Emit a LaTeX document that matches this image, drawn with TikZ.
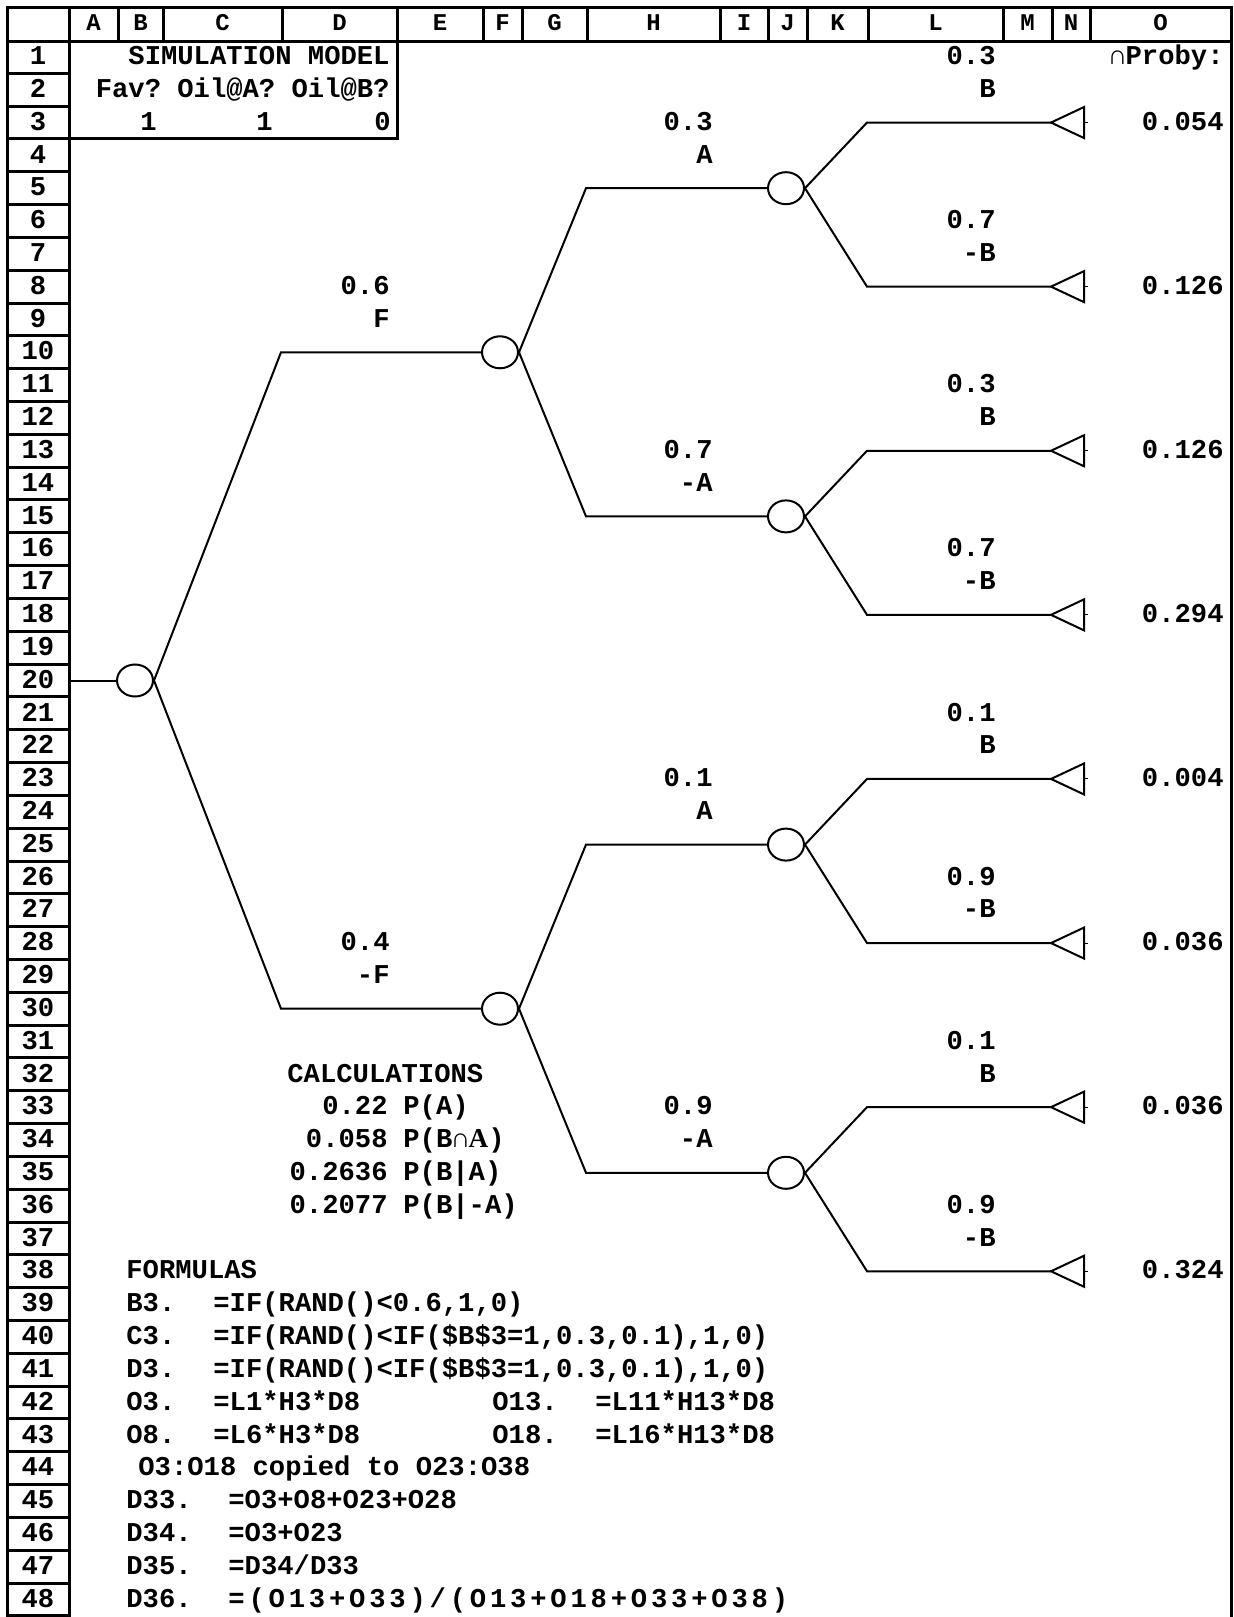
\documentclass[tikz,border=0pt]{standalone}
\usepackage{fontspec}
\setmonofont{Liberation Mono}
\newfontfamily\serifA{Liberation Serif}
\newfontfamily\widemono[LetterSpace=14]{Liberation Mono}
\usetikzlibrary{positioning,shapes.geometric}

\tikzset{
  grid/.style={line width=1.5pt},
  branch/.style={line width=1pt},
  chance/.style={draw,ellipse,line width=1pt,minimum width=18pt,minimum height=16pt,inner sep=0pt},
  txt/.style={font=\ttfamily\bfseries\fontsize{13.6}{16}\selectfont,inner sep=0pt},
  hdr/.style={font=\ttfamily\bfseries\fontsize{12}{14}\selectfont,inner sep=0pt,anchor=base},
  rt/.style={txt,anchor=base east},
  lt/.style={txt,anchor=base west}
}

\begin{document}
\begin{tikzpicture}[x=0.5pt,y=-0.5pt,
  declare function={ry(\n)=40.5+(\n-0.5)*32.82; by(\n)=ry(\n)+7.7;}]
\useasboundingbox (0,0) rectangle (1233,1617);
% sheet frame
\draw[grid] (7,7) rectangle (1231,41);
\draw[grid] (7,41) -- (7,1617) (69,41) -- (69,1617) (1231,41) -- (1231,1617);
\foreach \x in {69,118,163,282,397,483,522,587,720,768,807,868,1003,1052,1090}
  \draw[grid] (\x,7) -- (\x,41);
\foreach \n in {1,...,48}
  \draw[grid] (7,{40.5+\n*32.82}) -- (69,{40.5+\n*32.82});
\foreach \c/\x in {A/93.5,B/140.5,C/222.5,D/339.5,E/440,F/502.5,G/554.5,H/653.5,
  I/744,J/787.5,K/837.5,L/935.5,M/1027.5,N/1071,O/1160.5}
  \node[hdr] (h\c) at (\x,30.5) {\c};
\foreach \n in {1,...,48}
  \node[txt,anchor=base] (r\n) at (38,{by(\n)}) {\n};

% model box
\draw[grid] (69,{40.5+3*32.82}) -- (397,{40.5+3*32.82}) -- (397,41);
\node[rt] (title) at (390,{by(1)}) {SIMULATION MODEL};
\node[rt] (heads) at (390,{by(2)}) {Fav? Oil@A? Oil@B?};
\node[rt] (favv) at (157,{by(3)}) {1};
\node[rt] (oilA) at (273,{by(3)}) {1};
\node[rt] (oilB) at (391,{by(3)}) {0};
\node[rt] (proby) at (1224,{by(1)}) {∩Proby:};

% tree
\coordinate (root) at (69,{ry(20)});
\coordinate (cd) at (281,0);
\coordinate (gh) at (586,0);
\coordinate (kl) at (867,0);
\node[chance] (c0) at (135,{ry(20)}) {};
\node[chance] (cF) at (500,{ry(10)}) {};
\node[chance] (cnF) at (500,{ry(30)}) {};
\node[chance] (cFA) at (786,{ry(5)}) {};
\node[chance] (cFnA) at (786,{ry(15)}) {};
\node[chance] (cnFA) at (786,{ry(25)}) {};
\node[chance] (cnFnA) at (786,{ry(35)}) {};
\draw[branch] (root) -- (c0);
\draw[branch] (c0.east) -- (cd |- cF) -- (cF);
\draw[branch] (c0.east) -- (cd |- cnF) -- (cnF);
\draw[branch] (cF.east) -- (gh |- cFA) -- (cFA);
\draw[branch] (cF.east) -- (gh |- cFnA) -- (cFnA);
\draw[branch] (cnF.east) -- (gh |- cnFA) -- (cnFA);
\draw[branch] (cnF.east) -- (gh |- cnFnA) -- (cnFnA);
\foreach \r/\c/\v in {3/cFA/0.054,8/cFA/0.126,13/cFnA/0.126,18/cFnA/0.294,
  23/cnFA/0.004,28/cnFA/0.036,33/cnFnA/0.036,38/cnFnA/0.324}{
  \coordinate (t\r) at (1051,{ry(\r)});
  \draw[branch] (\c.east) -- (kl |- t\r) -- (t\r);
  \draw[branch] (t\r) -- ++(33,-15.5) -- ++(0,31) -- cycle;
  \draw[line width=0.5pt] (t\r) ++(33,0) -- ++(4,0);
  \node[rt] (v\r) at (1224,{by(\r)}) {\v};
}

% branch labels
\node[rt] (pF) at (390,{by(8)}) {0.6};
\node[rt] (nF) at (390,{by(9)}) {F};
\node[rt] (pnF) at (390,{by(28)}) {0.4};
\node[rt] (nnF) at (390,{by(29)}) {-F};
\node[rt] (pFA) at (713,{by(3)}) {0.3};
\node[rt] (nFA) at (713,{by(4)}) {A};
\node[rt] (pFnA) at (713,{by(13)}) {0.7};
\node[rt] (nFnA) at (713,{by(14)}) {-A};
\node[rt] (pnFA) at (713,{by(23)}) {0.1};
\node[rt] (nnFA) at (713,{by(24)}) {A};
\node[rt] (pnFnA) at (713,{by(33)}) {0.9};
\node[rt] (nnFnA) at (713,{by(34)}) {-A};
\foreach \r/\p/\b in {1/0.3/B,6/0.7/-B,11/0.3/B,16/0.7/-B,21/0.1/B,26/0.9/-B,31/0.1/B,36/0.9/-B}{
  \node[rt] (pB\r) at (996,{by(\r)}) {\p};
  \node[rt] (nB\r) at (996,{by(\r+1)}) {\b};
}

% calculations
\node[lt] (calc) at (287,{by(32)}) {CALCULATIONS};
\node[rt] (pa) at (388,{by(33)}) {0.22};
\node[lt] (pal) at (403,{by(33)}) {P(A)};
\node[rt] (pba) at (388,{by(34)}) {0.058};
\node[lt] (pbal) at (403,{by(34)}) {P(B∩{\serifA\bfseries A})};
\node[rt] (pbca) at (388,{by(35)}) {0.2636};
\node[lt] (pbcal) at (403,{by(35)}) {P(B|A)};
\node[rt] (pbcn) at (388,{by(36)}) {0.2077};
\node[lt] (pbcnl) at (403,{by(36)}) {P(B|-A)};

% formulas
\node[lt] (form) at (126,{by(38)}) {FORMULAS};
\node[lt] (fB3) at (126,{by(39)}) {B3.};
\node[lt] (eB3) at (213,{by(39)}) {=IF(RAND()<0.6,1,0)};
\node[lt] (fC3) at (126,{by(40)}) {C3.};
\node[lt] (eC3) at (213,{by(40)}) {=IF(RAND()<IF(\$B\$3=1,0.3,0.1),1,0)};
\node[lt] (fD3) at (126,{by(41)}) {D3.};
\node[lt] (eD3) at (213,{by(41)}) {=IF(RAND()<IF(\$B\$3=1,0.3,0.1),1,0)};
\node[lt] (fO3) at (126,{by(42)}) {O3.};
\node[lt] (eO3) at (213,{by(42)}) {=L1*H3*D8};
\node[lt] (fO13) at (492,{by(42)}) {O13.};
\node[lt] (eO13) at (595,{by(42)}) {=L11*H13*D8};
\node[lt] (fO8) at (126,{by(43)}) {O8.};
\node[lt] (eO8) at (213,{by(43)}) {=L6*H3*D8};
\node[lt] (fO18) at (492,{by(43)}) {O18.};
\node[lt] (eO18) at (595,{by(43)}) {=L16*H13*D8};
\node[lt] (copy) at (138,{by(44)}) {O3:O18 copied to O23:O38};
\node[lt] (fD33) at (126,{by(45)}) {D33.};
\node[lt] (eD33) at (228,{by(45)}) {=O3+O8+O23+O28};
\node[lt] (fD34) at (126,{by(46)}) {D34.};
\node[lt] (eD34) at (228,{by(46)}) {=O3+O23};
\node[lt] (fD35) at (126,{by(47)}) {D35.};
\node[lt] (eD35) at (228,{by(47)}) {=D34/D33};
\node[lt] (fD36) at (126,{by(48)}) {D36.};
\node[lt] (eD36) at (228,{by(48)}) {\widemono\bfseries =(O13+O33)/(O13+O18+O33+O38)};
\end{tikzpicture}
\end{document}
